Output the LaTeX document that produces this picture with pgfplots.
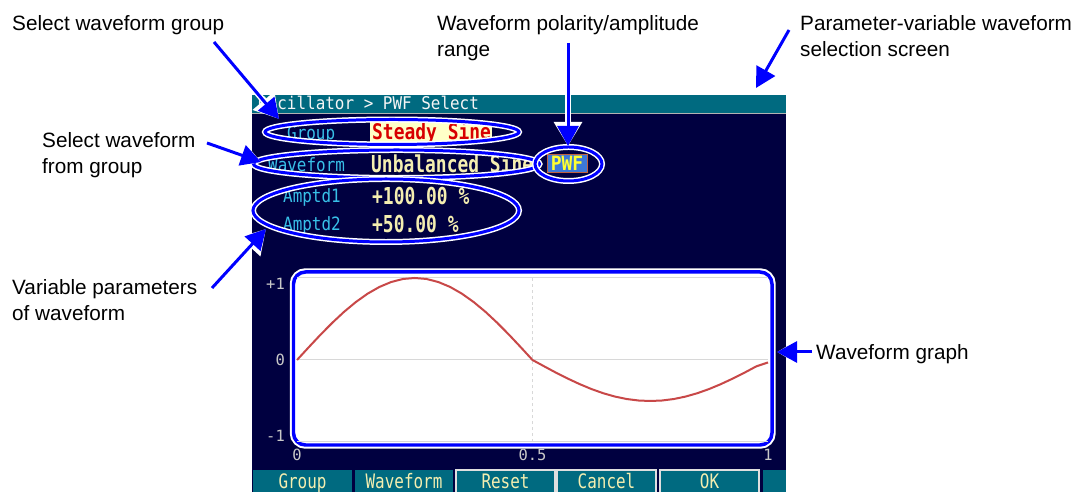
\documentclass[border=0pt]{standalone}
\usepackage{pgfplots}
\pgfplotsset{compat=1.18}
\usepackage{pgfplotstable}
\usepackage{fontspec}
\setmainfont{Liberation Sans}
\newfontfamily\scr{DejaVu Sans Mono}
\usetikzlibrary{arrows.meta}
\definecolor{navy}{HTML}{000040}
\definecolor{teal2}{HTML}{006A80}
\definecolor{cyanlab}{HTML}{38C0E8}
\definecolor{ltyel}{HTML}{F4EEB0}
\definecolor{annblue}{HTML}{0000FF}
\definecolor{curvecol}{HTML}{C84848}
\definecolor{tickgray}{HTML}{C8C8C8}
\definecolor{gridgray}{HTML}{D8D8D8}
\definecolor{steadybg}{HTML}{FFFFC8}
\definecolor{steadyred}{HTML}{D80000}
\definecolor{pwfblue}{HTML}{3C78D8}
\definecolor{pwfyel}{HTML}{FFFF30}
\definecolor{pwfedge}{HTML}{C06040}

\pgfplotstableread{
x y
0 0
0.025 0.156
0.05 0.309
0.075 0.454
0.1 0.588
0.125 0.707
0.15 0.809
0.175 0.891
0.2 0.951
0.225 0.988
0.25 1.0
0.275 0.988
0.3 0.951
0.325 0.891
0.35 0.809
0.375 0.707
0.4 0.588
0.425 0.454
0.45 0.309
0.475 0.156
0.5 0
0.525 -0.078
0.55 -0.155
0.575 -0.227
0.6 -0.294
0.625 -0.354
0.65 -0.405
0.675 -0.446
0.7 -0.476
0.725 -0.494
0.75 -0.5
0.775 -0.494
0.8 -0.476
0.825 -0.446
0.85 -0.405
0.875 -0.354
0.9 -0.294
0.925 -0.227
0.95 -0.155
0.975 -0.078
1.0 -0.03
}\wavetable

\newcommand{\ann}{\fontsize{20.8}{25}\selectfont}
\newcommand{\lab}{\scr\fontsize{16}{18}\selectfont}
\newcommand{\val}{\scr\bfseries\fontsize{18}{20}\selectfont}

\begin{document}
\begin{tikzpicture}[x=1bp,y=1bp]
\path[use as bounding box] (0,0) rectangle (1083,492);
\fill[white] (0,0) rectangle (1083,492);
% screen
\fill[navy] (252,0) rectangle (786,397);
\fill[teal2] (252,379) rectangle (786,397);
\draw[gray!60, line width=1] (252,378.5) -- (786,378.5);
\node[anchor=base west, inner sep=0, text=white!92!gray, font=\lab] at (258,382) {\scalebox{1}[1.1]{Oscillator > PWF Select}};
% rows
\fill[steadybg] (370,349) rectangle (492,370);
\node[anchor=base west, inner sep=0, text=cyanlab, font=\lab] at (287,352) {\scalebox{1}[1.15]{Group}};
\node[anchor=base west, inner sep=0, text=steadyred, font=\val] at (372,352) {\scalebox{1}[1.2]{Steady Sine}};
\node[anchor=base west, inner sep=0, text=cyanlab, font=\lab] at (268,320) {\scalebox{1}[1.15]{Waveform}};
\node[anchor=base west, inner sep=0, text=ltyel, font=\val] at (371,319) {\scalebox{1}[1.3]{Unbalanced Sine}};
\fill[pwfblue] (547,319) rectangle (587,337);
\draw[pwfedge, line width=1] (547,319) rectangle (587,337);
\node[anchor=base, inner sep=0, text=pwfyel, font=\val] at (567,321.5) {\scalebox{1}[1.1]{PWF}};
\node[anchor=base west, inner sep=0, text=cyanlab, font=\lab] at (283,289) {\scalebox{1}[1.15]{Amptd1}};
\node[anchor=base west, inner sep=0, text=ltyel, font=\val] at (372,287) {\scalebox{1}[1.3]{+100.00 \%}};
\node[anchor=base west, inner sep=0, text=cyanlab, font=\lab] at (283,261) {\scalebox{1}[1.15]{Amptd2}};
\node[anchor=base west, inner sep=0, text=ltyel, font=\val] at (372,259) {\scalebox{1}[1.3]{+50.00 \%}};
% buttons
\foreach \a/\b/\t/\h in {253/352/Group/0, 355/453/Waveform/0, 456/555/Reset/1, 557/656/Cancel/1, 660/759/OK/1, 763/786/{}/0}{
  \fill[teal2] (\a,0) rectangle (\b,22);
  \ifnum\h=1 \draw[gray!25, line width=1.5] (\a,0) -- (\a,22) -- (\b,22) -- (\b,0);\fi
  \node[anchor=base, inner sep=0, text=ltyel, font=\lab] at ({(\a+\b)/2},3.5) {\scalebox{1}[1.25]{\t}};
}
% graph box
\draw[white, line width=7.5, fill=white, rounded corners=12] (293.5,47) rectangle (772,220);
\draw[annblue, line width=3.5, rounded corners=12] (293.5,47) rectangle (772,220);
\begin{axis}[at={(297bp,50bp)}, anchor=south west, scale only axis,
  width=471bp, height=164bp,
  xmin=0, xmax=1, ymin=-1, ymax=1,
  axis line style={draw=none}, tick style={draw=none}, major tick length=0pt,
  xtick={0,0.5,1}, xticklabels={0,0.5,1},
  ytick={-1,0,1},
  yticklabels={\raisebox{0bp}[0pt][0pt]{-1}, \raisebox{-6bp}[0pt][0pt]{0}, \raisebox{-12bp}[0pt][0pt]{+1}},
  ymajorgrids, grid style={draw=gridgray, line width=1bp},
  extra x ticks={0.5}, extra x tick labels={},
  extra x tick style={grid=major, major grid style={dashed, draw=gridgray, line width=1bp}},
  ticklabel style={font=\scr\fontsize{15.5}{17}\selectfont, text=tickgray, inner sep=0pt},
  xticklabel style={yshift=-7bp},
  yticklabel style={xshift=-12bp},
  clip=false]
\addplot[curvecol, line width=2bp, mark=none] table {\wavetable};
\end{axis}
% ellipses
\foreach \cx/\cy/\rx/\ry in {392/360/127/12.5, 396.5/328/143/14, 386/281.5/133/31.5, 568.5/328/33.5/17}{
  \draw[white, line width=6] (\cx,\cy) ellipse [x radius=\rx, y radius=\ry];
  \draw[annblue, line width=3] (\cx,\cy) ellipse [x radius=\rx, y radius=\ry];
}
% arrows
\foreach \xa/\ya/\xb/\yb in {214/450/279/373, 568/449/568/346, 789/462/756/404, 207/349/261/330, 212/204/266/263, 812/140/777/140}{
  \draw[white, line width=6, -{Triangle[length=24bp,width=27bp]}] (\xa,\ya) -- (\xb,\yb);
  \draw[annblue, line width=3, -{Triangle[length=20bp,width=21bp]}] (\xa,\ya) -- (\xb,\yb);
}
% annotation texts
\node[anchor=base west, inner sep=0, font=\ann] at (12,461) {Select waveform group};
\node[anchor=base west, inner sep=0, font=\ann] at (437,461) {Waveform polarity/amplitude};
\node[anchor=base west, inner sep=0, font=\ann] at (437,435) {range};
\node[anchor=base west, inner sep=0, font=\ann] at (800,461) {Parameter-variable waveform};
\node[anchor=base west, inner sep=0, font=\ann] at (800,435) {selection screen};
\node[anchor=base west, inner sep=0, font=\ann] at (42,344) {Select waveform};
\node[anchor=base west, inner sep=0, font=\ann] at (42,318) {from group};
\node[anchor=base west, inner sep=0, font=\ann] at (12,197) {Variable parameters};
\node[anchor=base west, inner sep=0, font=\ann] at (12,171) {of waveform};
\node[anchor=base west, inner sep=0, font=\ann] at (816,132) {Waveform graph};
\end{tikzpicture}
\end{document}
